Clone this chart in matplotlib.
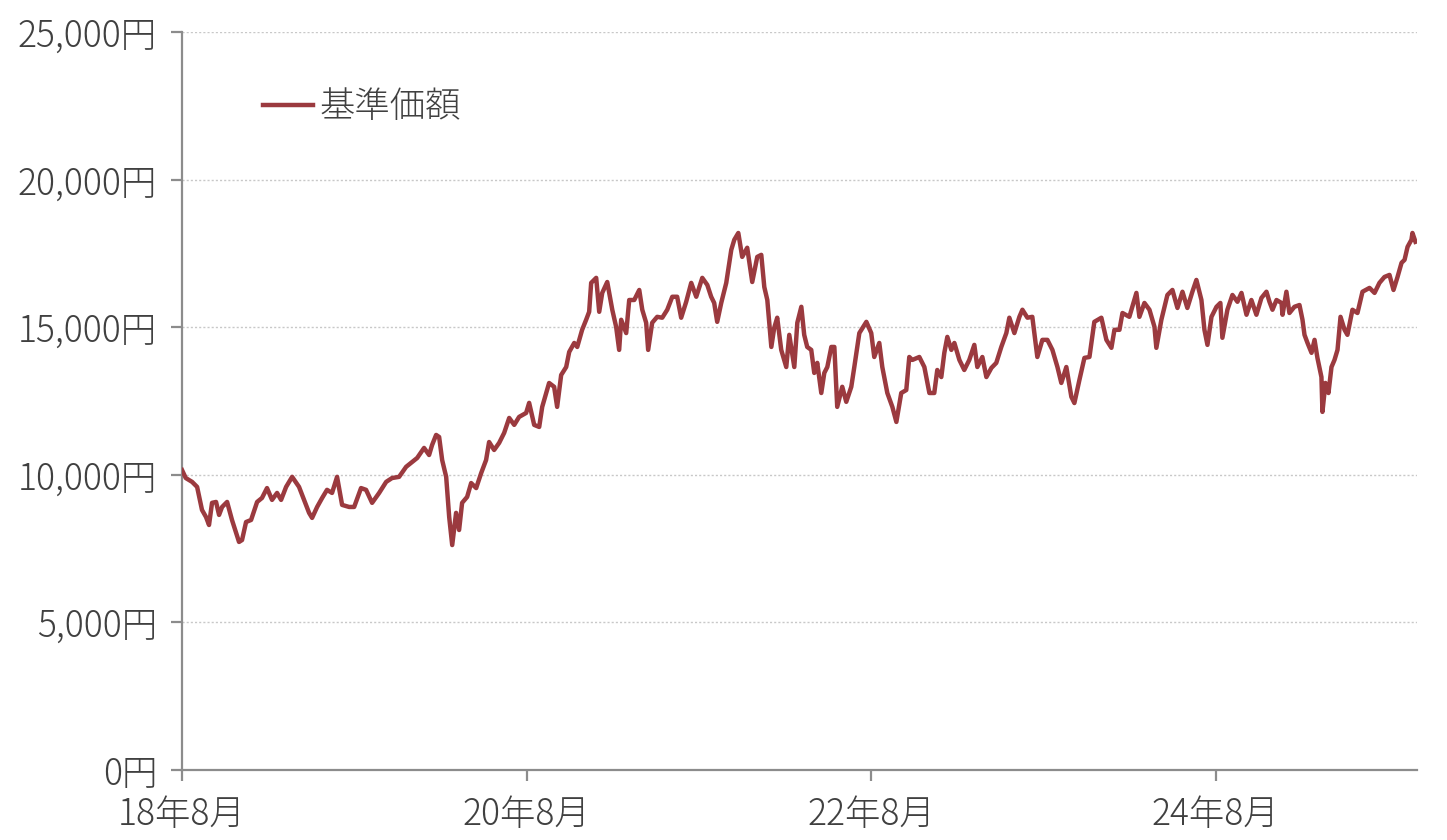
import matplotlib
matplotlib.use("Agg")
import matplotlib.pyplot as plt
from matplotlib.ticker import FuncFormatter

plt.rcParams['font.family'] = ['Noto Sans CJK JP', 'DejaVu Sans']
plt.rcParams['font.weight'] = 'light'

# months elapsed since 2018-08 and NAV (yen)
months = [
    0.0, 0.26, 0.70, 1.05, 1.39, 1.67, 1.88, 2.09, 2.37, 2.58, 2.79, 3.14, 3.48, 3.97,
    4.18, 4.46, 4.81, 5.23, 5.57, 5.92, 6.27, 6.62, 6.90, 7.25, 7.67, 8.15, 8.50, 8.85,
    9.06, 9.41, 9.76, 10.10, 10.45, 10.80, 11.15, 11.64, 11.99, 12.47, 12.82, 13.24,
    13.73, 14.22, 14.63, 15.12, 15.61, 16.03, 16.38, 16.86, 17.21, 17.42, 17.70, 17.91,
    18.12, 18.40, 18.61, 18.82, 19.09, 19.30, 19.51, 19.86, 20.14, 20.49, 20.84, 21.18,
    21.39, 21.74, 22.09, 22.44, 22.79, 23.14, 23.48, 23.97, 24.18, 24.53, 24.88, 25.09,
    25.57, 25.92, 26.13, 26.41, 26.76, 26.97, 27.32, 27.53, 27.87, 28.15, 28.36, 28.50,
    28.85, 29.06, 29.27, 29.62, 29.97, 30.24, 30.45, 30.59, 30.94, 31.15, 31.50, 31.85,
    32.06, 32.33, 32.47, 32.75, 33.10, 33.45, 33.80, 34.15, 34.49, 34.77, 35.12, 35.47,
    35.82, 36.24, 36.59, 36.86, 37.07, 37.28, 37.56, 37.91, 38.26, 38.47, 38.75, 39.02,
    39.37, 39.72, 40.07, 40.35, 40.56, 40.77, 41.05, 41.25, 41.46, 41.74, 42.09, 42.30,
    42.65, 42.86, 43.14, 43.34, 43.55, 43.83, 44.04, 44.25, 44.53, 44.74, 44.95, 45.23,
    45.44, 45.64, 45.99, 46.27, 46.62, 46.83, 47.18, 47.67, 48.01, 48.22, 48.57, 48.78,
    49.13, 49.48, 49.76, 50.10, 50.45, 50.66, 50.87, 51.36, 51.71, 52.06, 52.40, 52.61,
    52.89, 53.10, 53.31, 53.59, 53.80, 54.15, 54.49, 54.84, 55.19, 55.40, 55.75, 56.03,
    56.38, 56.72, 57.07, 57.42, 57.63, 57.98, 58.33, 58.54, 58.89, 59.23, 59.58, 59.93,
    60.28, 60.63, 60.98, 61.25, 61.60, 61.95, 62.16, 62.51, 62.86, 63.21, 63.55, 64.04,
    64.39, 64.74, 64.95, 65.30, 65.51, 65.99, 66.48, 66.69, 67.04, 67.39, 67.74, 67.87,
    68.22, 68.64, 68.99, 69.34, 69.69, 70.03, 70.38, 70.66, 71.01, 71.22, 71.43, 71.71,
    72.06, 72.33, 72.47, 72.82, 73.17, 73.52, 73.80, 74.15, 74.49, 74.84, 75.19, 75.54,
    75.75, 75.96, 76.24, 76.59, 76.66, 76.93, 77.14, 77.49, 77.84, 78.05, 78.19, 78.40,
    78.68, 78.89, 79.09, 79.37, 79.44, 79.65, 79.86, 80.07, 80.28, 80.49, 80.70, 80.98,
    81.18, 81.53, 81.88, 82.23, 82.72, 83.07, 83.41, 83.76, 84.11, 84.39, 84.67, 84.95,
    85.16, 85.37, 85.64, 85.71, 85.92,
]
nav = [
    10160, 9890, 9760, 9590, 8810, 8570, 8300, 9050, 9080, 8640, 8910, 9080, 8470, 7725,
    7790, 8400, 8470, 9080, 9215, 9550, 9150, 9385, 9150, 9590, 9930, 9590, 9150, 8710,
    8540, 8910, 9215, 9490, 9385, 9930, 8980, 8910, 8910, 9550, 9490, 9050,
    9385, 9760, 9890, 9930, 10270, 10435, 10570, 10910, 10670, 11010, 11350, 11280,
    10500, 9930, 8570, 7620, 8710, 8130, 9050, 9250, 9720, 9550, 10060, 10500,
    11110, 10840, 11080, 11420, 11925, 11690, 11960, 12095, 12435, 11690, 11620, 12300,
    13110, 12980, 12300, 13380, 13650, 14160, 14465, 14330, 14910, 15250, 15520, 16500,
    16670, 15520, 16160, 16530, 15590, 15010, 14230, 15250, 14800, 15920, 15920, 16260,
    15590, 15150, 14230, 15150, 15350, 15320, 15590, 16030, 16030, 15320, 15860, 16500,
    16030, 16670, 16430, 16030, 15820, 15180, 15820, 16500, 17620, 17960, 18190, 17380,
    17690, 16530, 17380, 17450, 16360, 15920, 14330, 14975, 15320, 14230, 13650, 14740,
    13650, 15150, 15690, 14740, 14330, 14230, 13450, 13790, 12770, 13450, 13650, 14330,
    14330, 12300, 12980, 12470, 12980, 13650, 14800, 15180, 14800, 13990, 14465, 13650,
    12770, 12300, 11790, 12770, 12870, 13990, 13890, 13990, 13650, 12770, 12770, 13550,
    13310, 14130, 14670, 14230, 14465, 13890, 13550, 13890, 14400, 13650, 13990, 13310,
    13620, 13790, 14330, 14800, 15320, 14800, 15350, 15590, 15320, 15350, 13990, 14570,
    14570, 14230, 13650, 13110, 13650, 12640, 12430, 13210, 13960, 13990, 15180, 15320,
    14570, 14300, 14910, 14910, 15480, 15350, 16160, 15350, 15820, 15590, 15010, 14300,
    15250, 16090, 16260, 15650, 16200, 15650, 16200, 16600, 15920, 14910, 14400, 15350,
    15690, 15820, 14640, 15590, 16090, 15860, 16160, 15420, 15920, 15420, 15990, 16200,
    15860, 15590, 15920, 15820, 15420, 16200, 15480, 15690, 15750, 15250, 14740, 14465,
    14130, 14570, 13960, 13310, 12130, 13110, 12770, 13650, 13890, 14230, 15350, 14910,
    14740, 15590, 15480, 16200, 16330, 16160, 16500, 16700, 16770, 16260, 16700, 17180,
    17280, 17720, 17960, 18190, 17890,
]

x_ticks = [0, 24, 48, 72]
x_tick_labels = ['18年8月', '20年8月', '22年8月', '24年8月']
y_ticks = [0, 5000, 10000, 15000, 20000, 25000]

line_color = '#9b3a3f'
text_color = '#404040'
axis_color = '#8c8c8c'

fig = plt.figure(figsize=(14.47, 8.4), dpi=100)
ax = fig.add_axes([0.1258, 0.0833, 0.8532, 0.8787])

ax.plot(months, nav, color=line_color, linewidth=3.2, label='基準価額',
        solid_joinstyle='round', zorder=3)

ax.set_xlim(0, 86.0)
ax.set_ylim(0, 25000)
ax.set_xticks(x_ticks)
ax.set_xticklabels(x_tick_labels)
ax.set_yticks(y_ticks)
ax.yaxis.set_major_formatter(FuncFormatter(lambda v, p: f'{int(v):,}円'))

ax.grid(axis='y', color='#c8c8c8', linestyle=(0, (1.5, 1.5)), linewidth=1.0, zorder=0)
for s in ['top', 'right']:
    ax.spines[s].set_visible(False)
for s in ['left', 'bottom']:
    ax.spines[s].set_color(axis_color)
    ax.spines[s].set_linewidth(1.6)

ax.tick_params(axis='both', colors=axis_color, length=8, width=1.6,
               labelsize=25.5, labelcolor=text_color)
ax.tick_params(axis='y', pad=10)
ax.tick_params(axis='x', pad=10)

ax.legend(loc='center left', bbox_to_anchor=(0.04, 0.898), frameon=False,
          fontsize=25.5, handlelength=1.4, handletextpad=0.2, labelcolor=text_color)

fig.savefig('out.png', dpi=100)
